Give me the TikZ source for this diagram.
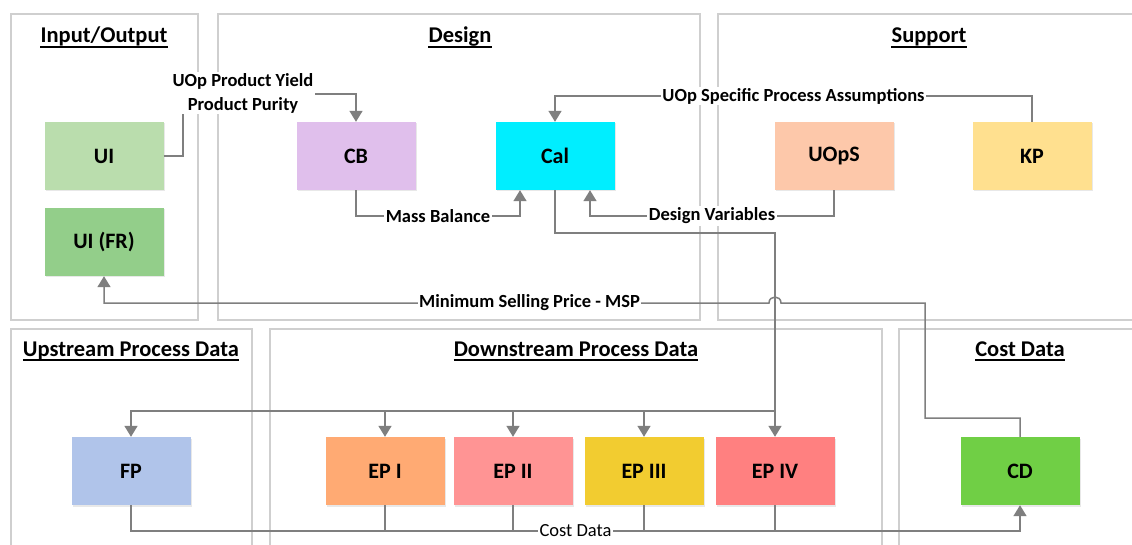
\documentclass[tikz,border=0pt]{standalone}
\usepackage{fontspec}
\setmainfont{Carlito}
\usetikzlibrary{arrows.meta,positioning,shadows}
\definecolor{LinkGray}{HTML}{7F7F7F}
\definecolor{PanelGray}{HTML}{CFCFCF}
\definecolor{UIGreen}{HTML}{BADDAD}
\definecolor{FRGreen}{HTML}{93CE8A}
\definecolor{CBViolet}{HTML}{E0BFEC}
\definecolor{CalCyan}{HTML}{00EEFF}
\definecolor{UOpsPeach}{HTML}{FDC8AA}
\definecolor{KPYellow}{HTML}{FFE08F}
\definecolor{FPBlue}{HTML}{B0C4EA}
\definecolor{EPOrange}{HTML}{FFAA73}
\definecolor{EPPink}{HTML}{FF9494}
\definecolor{EPGold}{HTML}{F2CC30}
\definecolor{EPRed}{HTML}{FF8080}
\definecolor{CDGreen}{HTML}{70CF45}

\tikzset{
  panel/.style={draw=PanelGray, line width=1.3pt, fill=white},
  block/.style={minimum width=119pt, minimum height=68pt, inner sep=0pt,
    font=\bfseries\fontsize{22}{24}\selectfont,
    drop shadow={opacity=0.18, shadow xshift=1.5pt, shadow yshift=-1.5pt}},
  heading/.style={anchor=base, inner sep=0pt, font=\bfseries\fontsize{22.5}{24}\selectfont},
  uline/.style={line width=1.3pt},
  link/.style={draw=LinkGray, line width=1.5pt},
  arr/.style={link, -{Triangle[width=13pt,length=11pt]}},
  tag/.style={fill=white, inner sep=1.5pt, text=black, font=\bfseries\fontsize{18.5}{24}\selectfont},
}

\begin{document}
\begin{tikzpicture}[x=1pt, y=-1pt]
\useasboundingbox (0,0) rectangle (1132,545);
\clip (0,0) rectangle (1132,545);

% Panels
\draw[panel] (11,14) rectangle (198,320);
\draw[panel] (218,14) rectangle (700,320);
\draw[panel] (718,14) rectangle (1145,320);
\draw[panel] (11,329) rectangle (252,560);
\draw[panel] (270,329) rectangle (882,560);
\draw[panel] (899,329) rectangle (1145,560);

% Panel headings (underlined)
\node[heading] (tio) at (104,43) {Input/Output};
\node[heading] (tdes) at (460,43) {Design};
\node[heading] (tsup) at (929,43) {Support};
\node[heading] (tup) at (131,356) {Upstream Process Data};
\node[heading] (tdown) at (576,356) {Downstream Process Data};
\node[heading] (tcost) at (1020,356) {Cost Data};
\foreach \t in {tio,tdes,tsup,tup,tdown,tcost}
  \draw[uline] ([yshift=-4pt]\t.base west) -- ([yshift=-4pt]\t.base east);

% Blocks, top row
\node[block, fill=UIGreen] (ui) at (104,156) {UI};
\node[block, fill=FRGreen] (uifr) at (104,242) {UI (FR)};
\node[block, fill=CBViolet] (cb) at (356,156) {CB};
\node[block, fill=CalCyan] (cal) at (555,156) {Cal};
\node[block, fill=UOpsPeach] (uops) at (834,156) {UOpS};
\node[block, fill=KPYellow] (kp) at (1032,156) {KP};

% Blocks, bottom row
\node[block, fill=FPBlue] (fp) at (131,471) {FP};
\node[block, fill=EPOrange] (ep1) at (385,471) {EP I};
\node[block, fill=EPPink] (ep2) at (513,471) {EP II};
\node[block, fill=EPGold] (ep3) at (644,471) {EP III};
\node[block, fill=EPRed] (ep4) at (775,471) {EP IV};
\node[block, fill=CDGreen] (cd) at (1020,471) {CD};

\coordinate (branch) at (775,411);
\coordinate (bus) at (0,531);

% Yield and purity into CB
\draw[arr] (ui.east) -- (183,156) -- (183,94) -| (cb.north);
\node[tag, align=center] (yield) at (243,93) {UOp Product Yield\\Product Purity};

% Inputs to Cal
\draw[arr] (cb.south) -- (356,216) -- node[tag] {Mass Balance} (520,216) -- ([xshift=-35pt]cal.south);
\draw[arr] (uops.south) -- (834,216) -- node[tag] {Design Variables} (590,216) -- ([xshift=35pt]cal.south);
\draw[arr] (kp.north) -- (1032,96) -- node[tag] {UOp Specific Process Assumptions} (555,96) -- (cal.north);

% Cal out to the process data blocks
\draw[arr] (cal.south) -- (555,233) -| (ep4.north);
\draw[arr] (branch) -| (fp.north);
\foreach \e in {ep1,ep2,ep3}
  \draw[arr] (\e.north |- branch) -- (\e.north);

% MSP back to UI (FR), hopping over the Cal line
\draw[arr] (cd.north) -- (1020,418) -- (925,418) -- (925,303) -- (781,303)
  .. controls (781,295) and (769,295) .. (769,303)
  -- node[tag, pos=0.36] {Minimum Selling Price - MSP} (104,303) -- (uifr.south);

% Cost data bus into CD
\draw[arr] (fp.south) -- (131,531) -- node[tag, font=\fontsize{18.5}{24}\selectfont] {Cost Data} (1020,531) -- (cd.south);
\foreach \e in {ep1,ep2,ep3,ep4}
  \draw[link] (\e.south) -- (\e.south |- bus);
\end{tikzpicture}
\end{document}
